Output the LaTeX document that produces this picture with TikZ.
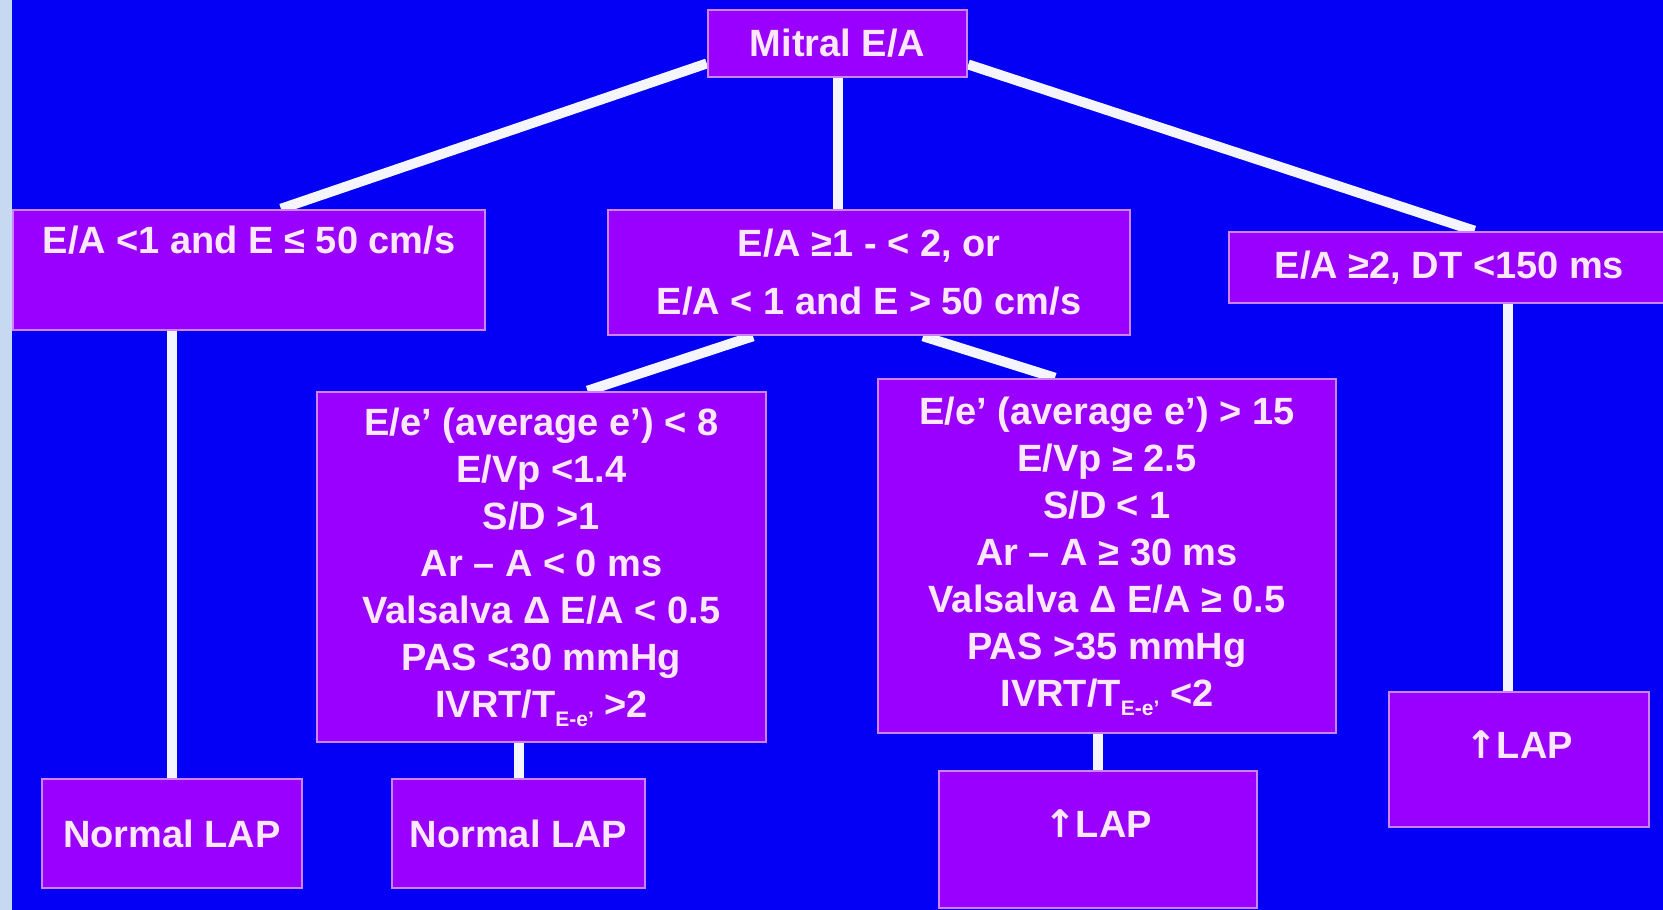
\documentclass[tikz,border=0pt]{standalone}
\usepackage{fontspec}
\setmainfont{Liberation Sans}
\newfontfamily\arrowfont{DejaVu Sans}
\usetikzlibrary{calc}
\pgfdeclarelayer{back}
\pgfdeclarelayer{background}
\pgfsetlayers{back,background,main}
\definecolor{bgblue}{RGB}{4,0,245}
\definecolor{strip}{RGB}{198,217,240}
\definecolor{boxfill}{RGB}{153,0,255}
\definecolor{boxline}{RGB}{205,130,255}
\definecolor{txt}{RGB}{255,232,255}
\definecolor{connc}{RGB}{245,245,255}
\newcommand\subEe{\raisebox{-9pt}{\fontsize{21}{21}\selectfont E-e'}}
\newcommand\uparr{{\arrowfont\bfseries ↑}}
\begin{document}
\begin{tikzpicture}[x=1pt,y=-1pt,
  box/.style={draw=boxline, fill=boxfill, line width=2.5pt, text=txt,
    font=\bfseries\fontsize{38}{47}\selectfont, align=center, inner sep=0pt, anchor=center},
  conn/.style={draw=connc, line width=10pt}]
\clip (0,0) rectangle (1663,910);
\useasboundingbox (0,0) rectangle (1663,910);
\begin{pgfonlayer}{back}
\fill[bgblue] (0,0) rectangle (1663,910);
\fill[strip] (0,0) rectangle (12,910);
\end{pgfonlayer}

\node[box, minimum width=259pt, minimum height=67pt] (m) at (837.5,43.5) {Mitral E/A};
\node[box, minimum width=472pt, minimum height=120pt, text height=27pt, text depth=61pt] (lb) at (249,270) {E/A <1 and E ≤ 50 cm/s};
\node[box, minimum width=522pt, minimum height=125pt] (cb) at (869,272.5) {E/A ≥1 - < 2, or\\[11pt]E/A < 1 and E > 50 cm/s};
\node[box, minimum width=441pt, minimum height=71pt] (rb) at (1449.5,267.5) {E/A ≥2, DT <150 ms};
\node[box, minimum width=449pt, minimum height=350pt] (lm) at (541.5,567) {E/e' (average e') < 8\\E/Vp <1.4\\S/D >1\\Ar – A < 0 ms\\Valsalva Δ E/A < 0.5\\PAS <30 mmHg\\IVRT/T\subEe{} >2};
\node[box, minimum width=458pt, minimum height=354pt] (rm) at (1107,556) {E/e' (average e') > 15\\E/Vp ≥ 2.5\\S/D < 1\\Ar – A ≥ 30 ms\\Valsalva Δ E/A ≥ 0.5\\PAS >35 mmHg\\IVRT/T\subEe{} <2};
\node[box, minimum width=260pt, minimum height=109pt] (n1) at (172,833.5) {Normal LAP};
\node[box, minimum width=253pt, minimum height=109pt] (n2) at (518.5,833.5) {Normal LAP};
\node[box, minimum width=318pt, minimum height=137pt, text height=27pt, text depth=31pt] (u1) at (1098,839.5) {\uparr LAP};
\node[box, minimum width=260pt, minimum height=135pt, text height=27pt, text depth=29pt] (u2) at (1519,759.5) {\uparr LAP};

\begin{pgfonlayer}{background}
\draw[conn] ([yshift=-20pt]m.west) -- ([xshift=32pt]lb.north);
\draw[conn] (m.south) -- (m.south |- cb.north);
\draw[conn] ([yshift=-21pt]m.east) -- ([xshift=25pt]rb.north);
\draw[conn] ([xshift=-116pt]cb.south) -- ([xshift=46pt]lm.north);
\draw[conn] ([xshift=54pt]cb.south) -- ([xshift=-52pt]rm.north);
\draw[conn] (n1.north |- lb.south) -- (n1.north);
\draw[conn] (n2.north |- lm.south) -- (n2.north);
\draw[conn] (u1.north |- rm.south) -- (u1.north);
\draw[conn] ([xshift=-11pt]u2.north |- rb.south) -- ([xshift=-11pt]u2.north);
\end{pgfonlayer}
\end{tikzpicture}
\end{document}
